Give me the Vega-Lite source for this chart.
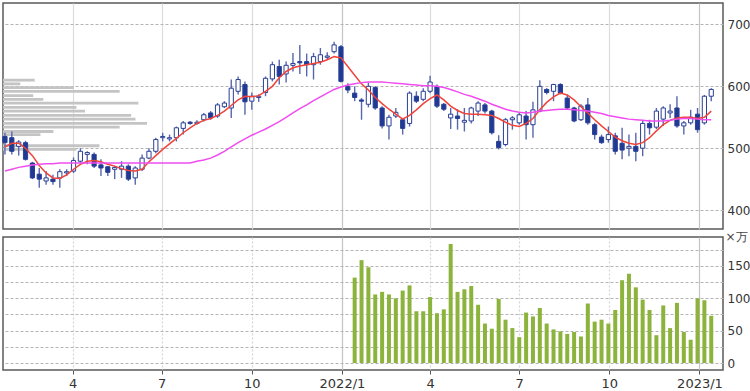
{
  "$schema": "https://vega.github.io/schema/vega-lite/v6.json",
  "padding": {"left": 1, "top": 2, "right": 0, "bottom": 0},
  "spacing": 8,
  "bounds": "flush",
  "config": {
    "view": {"stroke": "#5a5a5a", "strokeWidth": 1.5},
    "axis": {"labelFont": "DejaVu Sans", "titleFont": "DejaVu Sans", "labelColor": "#333333", "domain": false}
  },
  "datasets": {
    "candles": [
      {"d":"2021-01-22","o":519,"h":525,"l":490,"c":509,"m1":502,"m2":463},
      {"d":"2021-01-29","o":517,"h":527,"l":490,"c":495,"m1":508,"m2":466},
      {"d":"2021-02-05","o":503,"h":513,"l":488,"c":510,"m1":508,"m2":469},
      {"d":"2021-02-12","o":509,"h":512,"l":480,"c":482,"m1":500,"m2":471},
      {"d":"2021-02-19","o":476,"h":478,"l":450,"c":452,"m1":488,"m2":473},
      {"d":"2021-02-26","o":458,"h":468,"l":436,"c":450,"m1":472,"m2":474},
      {"d":"2021-03-05","o":447,"h":463,"l":441,"c":452,"m1":460,"m2":475},
      {"d":"2021-03-12","o":450,"h":457,"l":441,"c":446,"m1":452,"m2":475},
      {"d":"2021-03-19","o":452,"h":466,"l":436,"c":462,"m1":451,"m2":476},
      {"d":"2021-03-26","o":460,"h":466,"l":455,"c":462,"m1":457,"m2":476},
      {"d":"2021-04-02","o":463,"h":485,"l":460,"c":480,"m1":466,"m2":476},
      {"d":"2021-04-09","o":479,"h":500,"l":476,"c":495,"m1":474,"m2":476},
      {"d":"2021-04-16","o":490,"h":495,"l":474,"c":493,"m1":479,"m2":476},
      {"d":"2021-04-23","o":490,"h":493,"l":468,"c":471,"m1":480,"m2":476},
      {"d":"2021-04-30","o":473,"h":482,"l":455,"c":468,"m1":478,"m2":476},
      {"d":"2021-05-07","o":470,"h":471,"l":455,"c":461,"m1":474,"m2":476},
      {"d":"2021-05-14","o":466,"h":471,"l":450,"c":469,"m1":471,"m2":476},
      {"d":"2021-05-21","o":466,"h":479,"l":452,"c":471,"m1":467,"m2":476},
      {"d":"2021-05-28","o":471,"h":474,"l":447,"c":450,"m1":464,"m2":476},
      {"d":"2021-06-04","o":452,"h":471,"l":441,"c":468,"m1":463,"m2":476},
      {"d":"2021-06-11","o":466,"h":490,"l":463,"c":484,"m1":466,"m2":476},
      {"d":"2021-06-18","o":484,"h":500,"l":482,"c":495,"m1":478,"m2":476},
      {"d":"2021-06-25","o":495,"h":517,"l":492,"c":514,"m1":488,"m2":476},
      {"d":"2021-07-02","o":517,"h":525,"l":511,"c":519,"m1":498,"m2":476},
      {"d":"2021-07-09","o":515,"h":522,"l":511,"c":517,"m1":507,"m2":476},
      {"d":"2021-07-16","o":517,"h":535,"l":511,"c":533,"m1":516,"m2":476},
      {"d":"2021-07-23","o":532,"h":544,"l":522,"c":541,"m1":525,"m2":476},
      {"d":"2021-07-30","o":542,"h":544,"l":538,"c":540,"m1":533,"m2":476},
      {"d":"2021-08-06","o":540,"h":545,"l":538,"c":542,"m1":540,"m2":479},
      {"d":"2021-08-13","o":546,"h":557,"l":543,"c":554,"m1":545,"m2":481},
      {"d":"2021-08-20","o":557,"h":560,"l":546,"c":549,"m1":548,"m2":484},
      {"d":"2021-08-27","o":552,"h":573,"l":549,"c":570,"m1":553,"m2":489},
      {"d":"2021-09-03","o":567,"h":576,"l":565,"c":573,"m1":560,"m2":495},
      {"d":"2021-09-10","o":565,"h":611,"l":549,"c":597,"m1":569,"m2":502},
      {"d":"2021-09-17","o":592,"h":616,"l":587,"c":611,"m1":578,"m2":509},
      {"d":"2021-09-24","o":603,"h":608,"l":554,"c":575,"m1":584,"m2":515},
      {"d":"2021-10-01","o":576,"h":590,"l":562,"c":584,"m1":583,"m2":521},
      {"d":"2021-10-08","o":582,"h":587,"l":575,"c":584,"m1":585,"m2":526},
      {"d":"2021-10-15","o":590,"h":616,"l":584,"c":613,"m1":592,"m2":531},
      {"d":"2021-10-22","o":612,"h":640,"l":608,"c":635,"m1":600,"m2":537},
      {"d":"2021-10-29","o":632,"h":643,"l":603,"c":616,"m1":614,"m2":543},
      {"d":"2021-11-05","o":620,"h":640,"l":606,"c":634,"m1":624,"m2":550},
      {"d":"2021-11-12","o":634,"h":654,"l":624,"c":637,"m1":630,"m2":557},
      {"d":"2021-11-19","o":640,"h":667,"l":620,"c":638,"m1":633,"m2":564},
      {"d":"2021-11-26","o":640,"h":653,"l":616,"c":635,"m1":635,"m2":570},
      {"d":"2021-12-03","o":635,"h":654,"l":611,"c":648,"m1":637,"m2":577},
      {"d":"2021-12-10","o":640,"h":662,"l":635,"c":651,"m1":639,"m2":583},
      {"d":"2021-12-17","o":647,"h":655,"l":643,"c":649,"m1":643,"m2":589},
      {"d":"2021-12-24","o":656,"h":672,"l":653,"c":667,"m1":648,"m2":595},
      {"d":"2021-12-31","o":664,"h":667,"l":606,"c":608,"m1":646,"m2":599},
      {"d":"2022-01-07","o":600,"h":605,"l":589,"c":594,"m1":632,"m2":602},
      {"d":"2022-01-14","o":589,"h":600,"l":576,"c":582,"m1":618,"m2":604},
      {"d":"2022-01-21","o":578,"h":581,"l":546,"c":576,"m1":604,"m2":606},
      {"d":"2022-01-28","o":571,"h":606,"l":566,"c":600,"m1":594,"m2":607},
      {"d":"2022-02-04","o":598,"h":600,"l":562,"c":565,"m1":582,"m2":607},
      {"d":"2022-02-11","o":565,"h":568,"l":532,"c":536,"m1":572,"m2":607},
      {"d":"2022-02-18","o":536,"h":554,"l":514,"c":550,"m1":563,"m2":606},
      {"d":"2022-02-25","o":552,"h":565,"l":549,"c":558,"m1":555,"m2":605},
      {"d":"2022-03-04","o":546,"h":549,"l":522,"c":532,"m1":547,"m2":604},
      {"d":"2022-03-11","o":540,"h":592,"l":535,"c":589,"m1":553,"m2":603},
      {"d":"2022-03-18","o":584,"h":592,"l":573,"c":576,"m1":562,"m2":602},
      {"d":"2022-03-25","o":579,"h":597,"l":576,"c":592,"m1":572,"m2":601},
      {"d":"2022-04-01","o":592,"h":617,"l":589,"c":607,"m1":580,"m2":601},
      {"d":"2022-04-08","o":600,"h":603,"l":565,"c":568,"m1":586,"m2":600},
      {"d":"2022-04-15","o":571,"h":573,"l":560,"c":563,"m1":578,"m2":598},
      {"d":"2022-04-22","o":549,"h":565,"l":531,"c":555,"m1":568,"m2":595},
      {"d":"2022-04-29","o":552,"h":563,"l":530,"c":548,"m1":561,"m2":591},
      {"d":"2022-05-06","o":542,"h":565,"l":527,"c":545,"m1":556,"m2":587},
      {"d":"2022-05-13","o":544,"h":567,"l":540,"c":565,"m1":555,"m2":584},
      {"d":"2022-05-20","o":560,"h":576,"l":552,"c":573,"m1":555,"m2":580},
      {"d":"2022-05-27","o":570,"h":573,"l":556,"c":560,"m1":554,"m2":576},
      {"d":"2022-06-03","o":560,"h":562,"l":522,"c":525,"m1":553,"m2":571},
      {"d":"2022-06-10","o":511,"h":521,"l":498,"c":501,"m1":548,"m2":567},
      {"d":"2022-06-17","o":506,"h":549,"l":503,"c":546,"m1":542,"m2":563},
      {"d":"2022-06-24","o":546,"h":552,"l":530,"c":549,"m1":537,"m2":560},
      {"d":"2022-07-01","o":541,"h":557,"l":538,"c":554,"m1":535,"m2":558},
      {"d":"2022-07-08","o":552,"h":560,"l":514,"c":538,"m1":540,"m2":557},
      {"d":"2022-07-15","o":538,"h":575,"l":517,"c":562,"m1":548,"m2":558},
      {"d":"2022-07-22","o":560,"h":610,"l":558,"c":600,"m1":562,"m2":560},
      {"d":"2022-07-29","o":595,"h":597,"l":587,"c":590,"m1":574,"m2":561},
      {"d":"2022-08-05","o":592,"h":604,"l":576,"c":603,"m1":583,"m2":562},
      {"d":"2022-08-12","o":603,"h":605,"l":587,"c":589,"m1":589,"m2":563},
      {"d":"2022-08-19","o":581,"h":586,"l":562,"c":565,"m1":586,"m2":563},
      {"d":"2022-08-26","o":565,"h":567,"l":542,"c":544,"m1":578,"m2":562},
      {"d":"2022-09-02","o":546,"h":571,"l":544,"c":568,"m1":567,"m2":561},
      {"d":"2022-09-09","o":570,"h":581,"l":538,"c":541,"m1":557,"m2":560},
      {"d":"2022-09-16","o":538,"h":541,"l":514,"c":522,"m1":546,"m2":558},
      {"d":"2022-09-23","o":518,"h":522,"l":507,"c":509,"m1":536,"m2":556},
      {"d":"2022-09-30","o":514,"h":535,"l":509,"c":522,"m1":527,"m2":553},
      {"d":"2022-10-07","o":520,"h":525,"l":490,"c":495,"m1":518,"m2":551},
      {"d":"2022-10-14","o":508,"h":533,"l":482,"c":497,"m1":512,"m2":549},
      {"d":"2022-10-21","o":500,"h":522,"l":487,"c":503,"m1":508,"m2":547},
      {"d":"2022-10-28","o":503,"h":525,"l":479,"c":495,"m1":506,"m2":546},
      {"d":"2022-11-04","o":500,"h":544,"l":487,"c":540,"m1":509,"m2":545},
      {"d":"2022-11-11","o":540,"h":546,"l":522,"c":533,"m1":517,"m2":544},
      {"d":"2022-11-18","o":534,"h":565,"l":531,"c":560,"m1":528,"m2":544},
      {"d":"2022-11-25","o":547,"h":568,"l":536,"c":565,"m1":538,"m2":544},
      {"d":"2022-12-02","o":557,"h":571,"l":549,"c":560,"m1":545,"m2":545},
      {"d":"2022-12-09","o":565,"h":584,"l":533,"c":536,"m1":549,"m2":547},
      {"d":"2022-12-16","o":536,"h":544,"l":522,"c":541,"m1":550,"m2":548},
      {"d":"2022-12-23","o":541,"h":562,"l":538,"c":550,"m1":550,"m2":548},
      {"d":"2022-12-30","o":555,"h":565,"l":525,"c":530,"m1":548,"m2":547},
      {"d":"2023-01-06","o":541,"h":586,"l":538,"c":584,"m1":550,"m2":546},
      {"d":"2023-01-13","o":584,"h":597,"l":576,"c":595,"m1":560,"m2":546}
    ],
    "volume": [
      {"d":"2022-01-14","v":132},{"d":"2022-01-21","v":159},{"d":"2022-01-28","v":148},
      {"d":"2022-02-04","v":106},{"d":"2022-02-11","v":110},{"d":"2022-02-18","v":106},{"d":"2022-02-25","v":100},
      {"d":"2022-03-04","v":112},{"d":"2022-03-11","v":120},{"d":"2022-03-18","v":80},{"d":"2022-03-25","v":80},
      {"d":"2022-04-01","v":102},{"d":"2022-04-08","v":77},{"d":"2022-04-15","v":83},{"d":"2022-04-22","v":184},{"d":"2022-04-29","v":110},
      {"d":"2022-05-06","v":114},{"d":"2022-05-13","v":119},{"d":"2022-05-20","v":90},{"d":"2022-05-27","v":61},
      {"d":"2022-06-03","v":53},{"d":"2022-06-10","v":99},{"d":"2022-06-17","v":67},{"d":"2022-06-24","v":54},
      {"d":"2022-07-01","v":40},{"d":"2022-07-08","v":78},{"d":"2022-07-15","v":72},{"d":"2022-07-22","v":85},{"d":"2022-07-29","v":61},
      {"d":"2022-08-05","v":52},{"d":"2022-08-12","v":49},{"d":"2022-08-19","v":45},{"d":"2022-08-26","v":48},
      {"d":"2022-09-02","v":41},{"d":"2022-09-09","v":92},{"d":"2022-09-16","v":64},{"d":"2022-09-23","v":67},{"d":"2022-09-30","v":61},
      {"d":"2022-10-07","v":82},{"d":"2022-10-14","v":128},{"d":"2022-10-21","v":138},{"d":"2022-10-28","v":117},
      {"d":"2022-11-04","v":98},{"d":"2022-11-11","v":82},{"d":"2022-11-18","v":43},{"d":"2022-11-25","v":89},
      {"d":"2022-12-02","v":54},{"d":"2022-12-09","v":93},{"d":"2022-12-16","v":48},{"d":"2022-12-23","v":36},{"d":"2022-12-30","v":100},
      {"d":"2023-01-06","v":97},{"d":"2023-01-13","v":73}
    ],
    "profile": [
      {"p":610,"v":22},{"p":604,"v":12},{"p":598,"v":49},{"p":592,"v":81},{"p":585,"v":21},
      {"p":579,"v":28},{"p":573,"v":94},{"p":566,"v":51},{"p":560,"v":57},{"p":553,"v":89},
      {"p":547,"v":92},{"p":540,"v":100},{"p":534,"v":81},{"p":527,"v":35},{"p":522,"v":26},
      {"p":504,"v":67},{"p":498,"v":51}
    ]
  },
  "vconcat": [
    {
      "width": 720,
      "height": 226,
      "resolve": {"scale": {"x": "independent"}, "axis": {"x": "independent"}},
      "layer": [
        {
          "data": {"name": "profile"},
          "mark": {"type": "bar", "orient": "horizontal", "size": 2.8, "color": "#c4c4c4"},
          "encoding": {
            "x": {"field": "v", "type": "quantitative", "scale": {"domain": [0, 500], "padding": 0}, "axis": null},
            "y": {"field": "p", "type": "quantitative", "title": null,
                  "scale": {"domain": [369.4, 734.7], "nice": false, "zero": false, "padding": 0},
                  "axis": {"orient": "right", "values": [400, 450, 500, 550, 600, 650, 700], "title": null,
                           "ticks": false, "labelPadding": 4, "labelFontSize": 12,
                           "grid": true, "gridColor": "#b4b4b4", "gridDash": [3, 2], "gridWidth": 1}}
          }
        },
        {
          "data": {"name": "candles"},
          "encoding": {
            "x": {"field": "d", "type": "temporal", "title": null,
                  "scale": {"type": "utc", "padding": 0, "domain": [{"year": 2021, "month": 1, "date": 20, "utc": true}, {"year": 2023, "month": 1, "date": 25, "utc": true}]},
                  "axis": {"labels": false, "ticks": false, "title": null, "grid": true,
                           "gridColor": {"condition": {"test": "utcmonth(datum.value) == 0", "value": "#c4c4c4"}, "value": "#dcdcdc"},
                           "gridWidth": 1.2,
                           "values": [
                             {"year": 2021, "month": 4, "date": 1, "utc": true},
                             {"year": 2021, "month": 7, "date": 1, "utc": true},
                             {"year": 2021, "month": 10, "date": 1, "utc": true},
                             {"year": 2022, "month": 1, "date": 1, "utc": true},
                             {"year": 2022, "month": 4, "date": 1, "utc": true},
                             {"year": 2022, "month": 7, "date": 1, "utc": true},
                             {"year": 2022, "month": 10, "date": 1, "utc": true},
                             {"year": 2023, "month": 1, "date": 1, "utc": true}
                           ]}}
          },
          "layer": [
            {
              "mark": {"type": "rule", "color": "#5767ad", "strokeWidth": 1.4},
              "encoding": {
                "y": {"field": "l", "type": "quantitative", "title": null, "scale": {"domain": [369.4, 734.7], "nice": false, "zero": false, "padding": 0}},
                "y2": {"field": "h"}
              }
            },
            {
              "mark": {"type": "bar", "size": 4.2, "stroke": "#2a3f96", "strokeWidth": 1},
              "encoding": {
                "y": {"field": "o", "type": "quantitative", "title": null, "scale": {"domain": [369.4, 734.7], "nice": false, "zero": false, "padding": 0}},
                "y2": {"field": "c"},
                "fill": {"condition": {"test": "datum.c >= datum.o", "value": "#ffffff"}, "value": "#1f3a93"}
              }
            },
            {
              "mark": {"type": "line", "color": "#f0443a", "strokeWidth": 1.5},
              "encoding": {"y": {"field": "m1", "type": "quantitative", "title": null, "scale": {"domain": [369.4, 734.7], "nice": false, "zero": false, "padding": 0}}}
            },
            {
              "mark": {"type": "line", "color": "#f04cf0", "strokeWidth": 1.5},
              "encoding": {"y": {"field": "m2", "type": "quantitative", "title": null, "scale": {"domain": [369.4, 734.7], "nice": false, "zero": false, "padding": 0}}}
            }
          ]
        }
      ]
    },
    {
      "width": 720,
      "height": 133,
      "data": {"name": "volume"},
      "mark": {"type": "bar", "size": 4, "color": "#8cb43c"},
      "encoding": {
        "x": {"field": "d", "type": "temporal", "title": null,
              "scale": {"type": "utc", "padding": 0, "domain": [{"year": 2021, "month": 1, "date": 20, "utc": true}, {"year": 2023, "month": 1, "date": 25, "utc": true}]},
              "axis": {"title": null, "grid": true, "ticks": true, "tickSize": 4, "tickColor": "#555555", "tickWidth": 1,
                       "labelFontSize": 13, "labelPadding": 3, "labelFlush": false,
                       "labelExpr": "utcmonth(datum.value) == 0 ? utcyear(datum.value) + '/1' : '' + (utcmonth(datum.value) + 1)",
                       "gridColor": {"condition": {"test": "utcmonth(datum.value) == 0", "value": "#c4c4c4"}, "value": "#d4d4d4"},
                       "gridDash": {"condition": {"test": "utcmonth(datum.value) == 0", "value": []}, "value": [2, 2]},
                       "gridWidth": 1.2,
                       "values": [
                         {"year": 2021, "month": 4, "date": 1, "utc": true},
                         {"year": 2021, "month": 7, "date": 1, "utc": true},
                         {"year": 2021, "month": 10, "date": 1, "utc": true},
                         {"year": 2022, "month": 1, "date": 1, "utc": true},
                         {"year": 2022, "month": 4, "date": 1, "utc": true},
                         {"year": 2022, "month": 7, "date": 1, "utc": true},
                         {"year": 2022, "month": 10, "date": 1, "utc": true},
                         {"year": 2023, "month": 1, "date": 1, "utc": true}
                       ]}},
        "y": {"field": "v", "type": "quantitative",
              "scale": {"domain": [-10.8, 194.8], "nice": false, "zero": false, "padding": 0},
              "axis": {"orient": "right", "values": [0, 25, 50, 75, 100, 125, 150, 175],
                       "labelExpr": "datum.value % 50 == 0 ? datum.label : ''",
                       "ticks": false, "labelPadding": 4, "labelFontSize": 12,
                       "grid": true, "gridColor": "#b4b4b4", "gridDash": [3, 2], "gridWidth": 1,
                       "title": "×万", "titleAngle": 0, "titleX": 2, "titleY": -1, "titleAlign": "left",
                       "titleBaseline": "middle", "titleFontSize": 12, "titleFontWeight": "normal", "titleColor": "#444444"}},
        "y2": {"datum": 0}
      }
    }
  ]
}
